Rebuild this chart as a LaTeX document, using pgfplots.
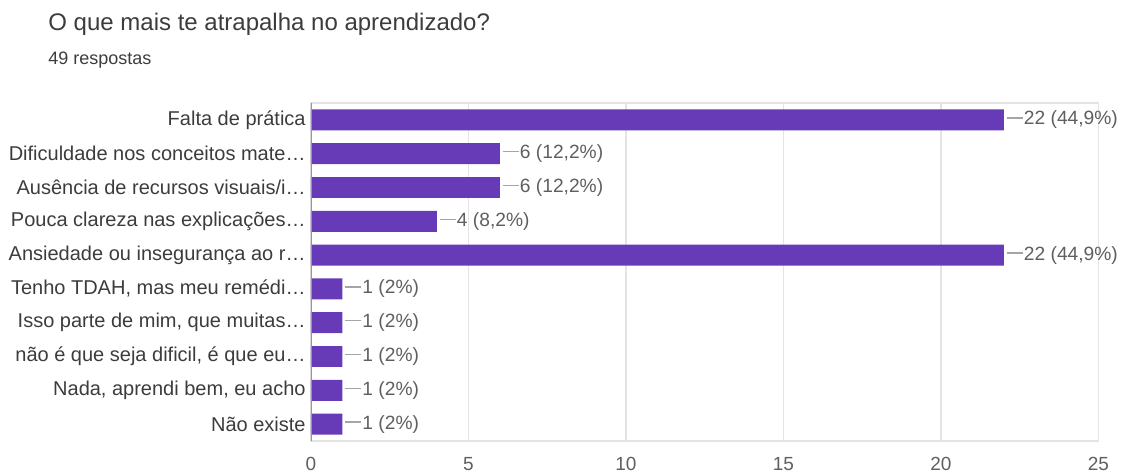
\documentclass[border=0pt]{standalone}
\usepackage{pgfplots}
\pgfplotsset{compat=1.18}
\usepackage{fontspec}
\setmainfont{Liberation Sans}
\definecolor{barpurple}{RGB}{103,58,183}
\definecolor{labelgray}{RGB}{60,60,60}
\definecolor{tickgray}{RGB}{95,95,95}
\definecolor{gridgray}{RGB}{228,228,228}
\definecolor{axisgray}{RGB}{150,150,150}
\definecolor{leadgray}{RGB}{165,165,165}
\begin{document}
\begin{tikzpicture}
\useasboundingbox (-155.5pt,-17.5pt) rectangle (407.5pt,220.5pt);
\node[anchor=base west, font=\fontsize{12}{14}\selectfont, text=labelgray, inner sep=0pt]
  at (-131.5pt,205pt) {O que mais te atrapalha no aprendizado?};
\node[anchor=base west, font=\fontsize{9}{11}\selectfont, text=labelgray, inner sep=0pt]
  at (-131.5pt,188pt) {49 respostas};
\begin{axis}[
  at={(0pt,0pt)}, anchor=south west,
  scale only axis,
  width=393.75pt, height=169pt,
  xbar, bar width=0.62,
  xmin=0, xmax=25,
  ymin=-0.5, ymax=9.5,
  y dir=reverse,
  xtick={0,5,10,15,20,25},
  ytick={0,...,9},
  yticklabels={Falta de prática,
    Dificuldade nos conceitos mate…,
    Ausência de recursos visuais/i…,
    Pouca clareza nas explicações…,
    Ansiedade ou insegurança ao r…,
    {Tenho TDAH, mas meu remédi…},
    {Isso parte de mim, que muitas…},
    {não é que seja dificil, é que eu…},
    {Nada, aprendi bem, eu acho},
    Não existe},
  /pgf/number format/assume math mode=true,
  major tick length=0pt,
  xmajorgrids, grid style={gridgray, line width=0.6pt},
  axis line style={gridgray, line width=0.6pt},
  xticklabel style={font=\fontsize{9.5}{11}\selectfont, text=tickgray, anchor=base, yshift=-14.5pt},
  yticklabel style={font=\fontsize{10}{11}\selectfont, text=labelgray, anchor=east, inner xsep=2.5pt},
  point meta=explicit symbolic,
  nodes near coords={\textcolor{leadgray}{\rule[0.33em]{8pt}{0.7pt}}\hspace{0.6pt}\pgfplotspointmeta},
  every node near coord/.append style={anchor=west, inner xsep=1.2pt, font=\fontsize{9.6}{11}\selectfont, text=tickgray},
]
\addplot[fill=barpurple, draw=none] coordinates {
  (22,0) [22 (44,9\%)]
  (6,1) [6 (12,2\%)]
  (6,2) [6 (12,2\%)]
  (4,3) [4 (8,2\%)]
  (22,4) [22 (44,9\%)]
  (1,5) [1 (2\%)]
  (1,6) [1 (2\%)]
  (1,7) [1 (2\%)]
  (1,8) [1 (2\%)]
  (1,9) [1 (2\%)]
};
\draw[axisgray, line width=0.9pt] (axis cs:0,-0.5) -- (axis cs:0,9.5);
\end{axis}
\end{tikzpicture}
\end{document}
